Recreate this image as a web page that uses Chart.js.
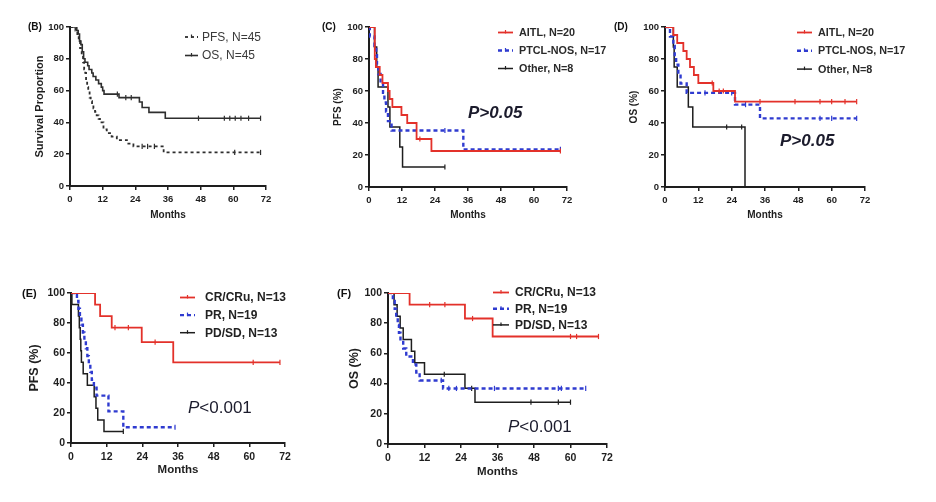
<!DOCTYPE html>
<html><head><meta charset="utf-8">
<script src="https://cdn.jsdelivr.net/npm/chart.js@4"></script>
<style>
html,body{margin:0;padding:0;background:#fff;width:936px;height:502px;overflow:hidden}
canvas{position:absolute;left:0;top:0}
</style></head><body>
<canvas id="cB" width="936" height="502"></canvas>
<canvas id="cC" width="936" height="502"></canvas>
<canvas id="cD" width="936" height="502"></canvas>
<canvas id="cE" width="936" height="502"></canvas>
<canvas id="cF" width="936" height="502"></canvas>
<script>
// ---------- tick labels ----------
const monthTicks = [0, 12, 24, 36, 48, 60, 72];
const pctTicks = [0, 20, 40, 60, 80, 100];

// ---------- Panel B: all patients ----------
const bPfsT = [0, 2, 2.7, 3.2, 3.7, 4.3, 4.8, 5.2, 5.6, 5.9, 6.3, 6.7, 7.2, 7.6, 8.1, 8.6, 9.2, 9.8, 10.5, 11, 12.3, 13.5, 15.3, 17.2, 20.9, 23.3, 34.4, 70];
const bPfsS = [100, 97.8, 95.6, 91.1, 86.7, 82.2, 77.8, 73.3, 71.1, 66.7, 62.2, 60, 55.6, 53.3, 51.1, 48.9, 46.7, 44.4, 42.2, 40, 35.6, 33.3, 31.1, 28.9, 26.7, 24.9, 21.1, 21.1];
const bPfsC = [26.5, 28.5, 31, 60.5, 70];
const bOsT = [0, 2.5, 3, 3.5, 4, 4.5, 5, 5.5, 6.5, 7, 8, 8.5, 9.5, 10.5, 11.5, 12, 12.5, 18, 25.5, 26.5, 29, 35, 70];
const bOsS = [100, 97.8, 95.6, 91.1, 88.9, 84.4, 80, 77.8, 75.6, 73.3, 71.1, 68.9, 66.7, 64.4, 62.2, 60, 57.8, 55.6, 52.8, 49.4, 46.3, 42.6, 42.6];
const bOsC = [17.4, 20.5, 22.5, 47.2, 56.7, 58.7, 60.7, 62.8, 65.6, 70];

// ---------- Panel C: PFS by subtype ----------
const cAitlT = [0, 2.1, 2.5, 3.9, 4.9, 6.9, 7.5, 8.5, 11.8, 13.9, 17.3, 22.7, 69.6];
const cAitlS = [100, 80, 75, 70, 65, 60, 55, 50, 45, 40, 30, 22.5, 22.5];
const cAitlC = [18.5, 69.6];
const cPtclT = [0, 0.3, 2, 2.6, 2.9, 3.4, 4.2, 5.1, 5.6, 6.2, 6.9, 8.2, 34.3, 69.6];
const cPtclS = [100, 94.1, 88.2, 82.4, 76.5, 70.6, 64.7, 58.8, 52.9, 47.1, 41.2, 35.3, 23.5, 23.5];
const cPtclC = [27.6, 69.6];
const cOthT = [0, 2, 2.8, 3.3, 6.9, 7.6, 11.2, 12.2, 27.6];
const cOthS = [100, 87.5, 75, 62.5, 50, 37.5, 25, 12.5, 12.5];
const cOthC = [27.6];

// ---------- Panel D: OS by subtype ----------
const dAitlT = [0, 3, 4.4, 6.6, 7.8, 9, 10.4, 12, 17.4, 25.2, 69];
const dAitlS = [100, 95, 90, 85, 80, 75, 70, 65, 60, 53.3, 53.3];
const dAitlC = [17, 19.5, 21, 34.2, 46.8, 55.8, 60, 64.8, 69];
const dPtclT = [0, 1.8, 3, 3.5, 4, 4.8, 5.6, 7.8, 25.2, 34.2, 69];
const dPtclS = [100, 94.1, 88.2, 82.4, 76.5, 70.6, 64.7, 58.8, 51.5, 42.9, 42.9];
const dPtclC = [14.4, 24, 29, 55.8, 60, 69];
const dOthT = [0, 3, 3.3, 4.4, 8.4, 10, 28.8];
const dOthS = [100, 87.5, 75, 62.5, 50, 37.5, 0];
const dOthC = [22.2, 27.6];

// ---------- Panel E: PFS by response ----------
const eCrT = [0, 8.1, 9.8, 13.7, 23.8, 34.4, 70.3];
const eCrS = [100, 92.3, 84.6, 76.9, 67.3, 53.8, 53.8];
const eCrC = [14.8, 19.3, 28.3, 61.3, 70.3];
const ePrT = [0, 2, 2.5, 3, 3.5, 4, 4.5, 5, 5.5, 6, 6.5, 7, 7.7, 8.6, 12.6, 17.6, 35];
const ePrS = [100, 94.7, 89.5, 84.2, 78.9, 73.7, 68.4, 63.2, 57.9, 52.6, 47.4, 42.1, 36.8, 31.6, 21.1, 10.5, 10.5];
const ePrC = [35];
const ePdT = [0, 0.3, 2.5, 2.8, 3.1, 3.3, 3.5, 4.1, 5.5, 7.8, 8.4, 9, 11.1, 17.6];
const ePdS = [100, 92.3, 84.6, 76.9, 69.2, 61.5, 53.8, 46.2, 38.5, 30.8, 23.1, 15.4, 7.7, 7.7];
const ePdC = [17.6];

// ---------- Panel F: OS by response ----------
const fCrT = [0, 7.1, 25.3, 34.4, 69.2];
const fCrS = [100, 92.3, 83.1, 71.2, 71.2];
const fCrC = [13.7, 18.7, 27.8, 60, 62, 69.2];
const fPrT = [0, 1.6, 2.2, 2.7, 3.2, 3.6, 4.1, 5, 6, 8.2, 9.3, 10.4, 18.1, 65];
const fPrS = [100, 94.7, 89.5, 84.2, 78.9, 73.7, 68.4, 63.2, 57.9, 52.6, 47.4, 42.1, 36.8, 36.8];
const fPrC = [17.5, 20, 22.5, 35, 56, 57, 65];
const fPdT = [0, 2, 3, 4, 5, 7.7, 8.8, 12, 25.3, 28.6, 60];
const fPdS = [100, 92.3, 84.6, 76.9, 69.2, 61.5, 53.8, 46.2, 36.9, 27.7, 27.7];
const fPdC = [18.5, 27.5, 47, 56, 60];

// ---------- styling ----------
const FF = "'Liberation Sans', Arial, sans-serif";
const AX = '#1e1e1e', TXT = '#1e1e1e';
const RED = '#e3312a', BLUE = '#2f3bd0', BLACK = '#1e1e1e', GRAY = '#2e2e2e';
const STY = {
  red:   { color: RED, width: 1.8, dash: [] },
  blue:  { color: BLUE, width: 2.4, dash: [4, 3] },
  black: { color: BLACK, width: 1.5, dash: [] },
  bDash: { color: GRAY, width: 1.8, dash: [3, 3] },
  bSolid:{ color: GRAY, width: 1.6, dash: [] }
};

function survAt(T, S, t) { let s = S[0]; for (let i = 0; i < T.length; i++) if (T[i] <= t) s = S[i]; return s; }

function km(label, T, S, C, st) {
  return [
    { label, inLegend: true, data: T.map((t, i) => ({ x: t, y: S[i] })), stepped: 'before',
      borderColor: st.color, borderWidth: st.width, borderDash: st.dash, pointRadius: 0, fill: false, tension: 0 },
    { label: '', inLegend: false, showLine: false, data: C.map(t => ({ x: t, y: survAt(T, S, t) })),
      pointStyle: 'line', rotation: 90, pointRadius: 2.6, pointBorderWidth: 1.2,
      borderColor: st.color, pointBorderColor: st.color, backgroundColor: st.color }
  ];
}

const kmLegend = {
  id: 'kmLegend',
  afterDatasetsDraw(chart, args, o) {
    const ctx = chart.ctx; ctx.save();
    ctx.font = o.font; ctx.textBaseline = 'middle'; ctx.textAlign = 'left';
    let row = 0;
    chart.data.datasets.forEach(ds => {
      if (!ds.inLegend) return;
      const y = o.y + row * o.dy;
      ctx.strokeStyle = ds.borderColor; ctx.lineWidth = ds.borderWidth; ctx.setLineDash(ds.borderDash || []);
      ctx.beginPath(); ctx.moveTo(o.x, y); ctx.lineTo(o.x + o.len, y); ctx.stroke();
      ctx.setLineDash([]); ctx.lineWidth = 1.2;
      const mx = o.x + o.len / 2;
      ctx.beginPath(); ctx.moveTo(mx, y - 2.5); ctx.lineTo(mx, y + 1); ctx.stroke();
      ctx.fillStyle = o.color; ctx.fillText(ds.label, o.x + o.len + o.gap, y + 0.5);
      row++;
    });
    ctx.restore();
  }
};

const notes = {
  id: 'notes',
  afterDraw(chart, args, o) {
    const ctx = chart.ctx; ctx.save(); ctx.textBaseline = 'middle'; ctx.textAlign = 'left';
    for (const n of o.items) {
      let x = n.x;
      for (const seg of n.segs) {
        ctx.font = seg.font; ctx.fillStyle = n.color;
        ctx.fillText(seg.t, x, n.y); x += ctx.measureText(seg.t).width;
      }
    }
    ctx.restore();
  }
};

function axis(p, isX) {
  const size = isX ? p.xTitleSize : p.yTitleSize;
  const lh = size * 1.2;
  const dim = isX ? (p.xTitleY - p.B + lh / 2) : (p.L - p.yTitleX + lh / 2);
  return {
    dim,
    cfg: {
      type: 'linear', min: 0, max: isX ? 72 : 100,
      afterBuildTicks: s => { s.ticks = (isX ? monthTicks : pctTicks).map(v => ({ value: v })); },
      afterFit: s => { if (isX) s.height = dim; else s.width = dim; },
      grid: { display: true, drawOnChartArea: false, drawTicks: true, tickLength: 4, color: AX, lineWidth: 1.5 },
      border: { display: true, color: AX, width: 2 },
      ticks: { font: { family: FF, weight: 'bold', size: p.tickSize }, color: TXT, padding: isX ? 4 : 2, maxRotation: 0, autoSkip: false },
      title: { display: true, text: isX ? p.xTitle : p.yTitle, font: { family: FF, weight: 'bold', size: size }, color: TXT, padding: 0 }
    }
  };
}

function makeChart(id, p) {
  const ax = axis(p, true), ay = axis(p, false);
  new Chart(document.getElementById(id), {
    type: 'line',
    data: { datasets: p.datasets },
    options: {
      responsive: false, animation: false, events: [],
      layout: { padding: { left: p.L - ay.dim, top: p.T, right: 936 - p.R, bottom: 502 - p.B - ax.dim } },
      plugins: { legend: { display: false }, tooltip: { enabled: false }, kmLegend: p.legend, notes: { items: p.notes } },
      scales: { x: ax.cfg, y: ay.cfg }
    },
    plugins: [kmLegend, notes]
  });
}

const PV = '#1b1b2c';
const lab = (t, x, y, size) => ({ x, y, color: '#111', segs: [{ t, font: `bold ${size}px ${FF}` }] });

makeChart('cB', {
  L: 70, T: 27, R: 266, B: 186, tickSize: 9.5,
  xTitle: 'Months', xTitleY: 215, xTitleSize: 10,
  yTitle: 'Survival Proportion', yTitleX: 40, yTitleSize: 11,
  datasets: [...km('PFS, N=45', bPfsT, bPfsS, bPfsC, STY.bDash), ...km('OS, N=45', bOsT, bOsS, bOsC, STY.bSolid)],
  legend: { x: 185, y: 37, dy: 18.5, len: 13, gap: 4, font: `12px ${FF}`, color: '#3a3a3a' },
  notes: [lab('(B)', 28, 27.5, 10)]
});

makeChart('cC', {
  L: 369, T: 27, R: 567, B: 187, tickSize: 9.5,
  xTitle: 'Months', xTitleY: 215, xTitleSize: 10,
  yTitle: 'PFS (%)', yTitleX: 338, yTitleSize: 10,
  datasets: [...km('AITL, N=20', cAitlT, cAitlS, cAitlC, STY.red), ...km('PTCL-NOS, N=17', cPtclT, cPtclS, cPtclC, STY.blue), ...km('Other, N=8', cOthT, cOthS, cOthC, STY.black)],
  legend: { x: 498, y: 32.5, dy: 18, len: 15, gap: 6, font: `bold 10.8px ${FF}`, color: '#2a2a2a' },
  notes: [lab('(C)', 322, 27.5, 10),
          { x: 468, y: 113, color: PV, segs: [{ t: 'P>0.05', font: `italic bold 17px ${FF}` }] }]
});

makeChart('cD', {
  L: 665, T: 27, R: 865, B: 187, tickSize: 9.5,
  xTitle: 'Months', xTitleY: 215, xTitleSize: 10,
  yTitle: 'OS (%)', yTitleX: 634, yTitleSize: 10,
  datasets: [...km('AITL, N=20', dAitlT, dAitlS, dAitlC, STY.red), ...km('PTCL-NOS, N=17', dPtclT, dPtclS, dPtclC, STY.blue), ...km('Other, N=8', dOthT, dOthS, dOthC, STY.black)],
  legend: { x: 797, y: 32.5, dy: 18.3, len: 15, gap: 6, font: `bold 10.8px ${FF}`, color: '#2a2a2a' },
  notes: [lab('(D)', 614, 27.5, 10),
          { x: 780, y: 141.5, color: PV, segs: [{ t: 'P>0.05', font: `italic bold 17px ${FF}` }] }]
});

makeChart('cE', {
  L: 71, T: 293, R: 285, B: 443, tickSize: 10.5,
  xTitle: 'Months', xTitleY: 470, xTitleSize: 11.5,
  yTitle: 'PFS (%)', yTitleX: 35, yTitleSize: 12.5,
  datasets: [...km('CR/CRu, N=13', eCrT, eCrS, eCrC, STY.red), ...km('PR, N=19', ePrT, ePrS, ePrC, STY.blue), ...km('PD/SD, N=13', ePdT, ePdS, ePdC, STY.black)],
  legend: { x: 180, y: 297.5, dy: 17.6, len: 15, gap: 10, font: `bold 12px ${FF}`, color: '#222' },
  notes: [lab('(E)', 22, 294, 11),
          { x: 188, y: 408, color: PV, segs: [{ t: 'P', font: `italic 17px ${FF}` }, { t: '<0.001', font: `17px ${FF}` }] }]
});

makeChart('cF', {
  L: 388, T: 293, R: 607, B: 444, tickSize: 10.5,
  xTitle: 'Months', xTitleY: 472, xTitleSize: 11.5,
  yTitle: 'OS (%)', yTitleX: 355, yTitleSize: 12.5,
  datasets: [...km('CR/CRu, N=13', fCrT, fCrS, fCrC, STY.red), ...km('PR, N=19', fPrT, fPrS, fPrC, STY.blue), ...km('PD/SD, N=13', fPdT, fPdS, fPdC, STY.black)],
  legend: { x: 493, y: 292.5, dy: 16.2, len: 16, gap: 6, font: `bold 12px ${FF}`, color: '#222' },
  notes: [lab('(F)', 337, 294, 11),
          { x: 508, y: 427, color: PV, segs: [{ t: 'P', font: `italic 17px ${FF}` }, { t: '<0.001', font: `17px ${FF}` }] }]
});
</script>
</body></html>
